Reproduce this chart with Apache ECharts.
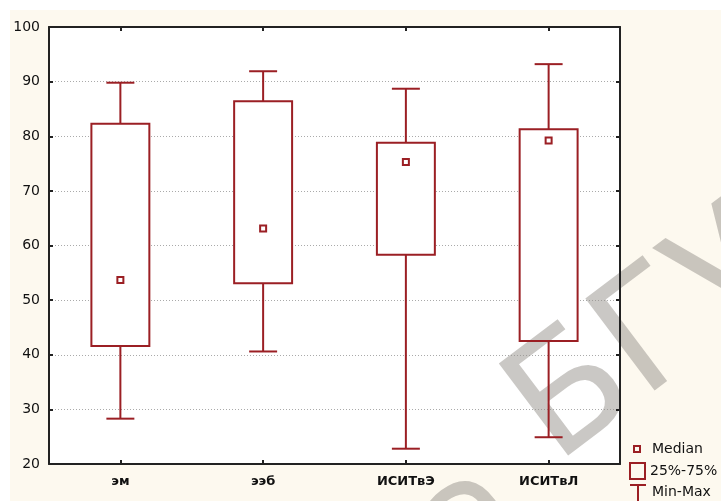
<!DOCTYPE html>
<html><head><meta charset="utf-8">
<script src="https://cdn.jsdelivr.net/npm/echarts@6/dist/echarts.min.js"></script>
<style>html,body{margin:0;padding:0;background:#fff}#c{width:721px;height:501px}</style>
</head><body><div id="c"></div>
<script>
const categories = ['эм', 'ээб', 'ИСИТвЭ', 'ИСИТвЛ'];
const minVals    = [28.3, 40.6, 22.8, 24.9];
const q1Vals     = [41.6, 53.1, 58.3, 42.5];
const medianVals = [53.7, 63.1, 75.3, 79.2];
const q3Vals     = [82.3, 86.4, 78.8, 81.3];
const maxVals    = [89.8, 91.9, 88.7, 93.2];
const yMin = 20, yMax = 100, yStep = 10;
const legendLabels = ['Median', '25%-75%', 'Min-Max'];
const watermarkLeft = 'Библиотека ';
const watermarkRight = 'БГУИР';

const RED = '#9b1f24';
const AX = '#222';
const WM = 'rgba(150,145,140,0.5)';
const data = categories.map((c, i) => [i, minVals[i], q1Vals[i], medianVals[i], q3Vals[i], maxVals[i]]);

function boxGeom(api) {
  const i = api.value(0);
  const band = api.size([1, 0])[0];
  const x = api.coord([i, api.value(3)])[0];
  return {
    x, hw: band * 0.203, cw: band * 0.098,
    yMin: api.coord([i, api.value(1)])[1],
    yQ1: api.coord([i, api.value(2)])[1],
    yMed: api.coord([i, api.value(3)])[1],
    yQ3: api.coord([i, api.value(4)])[1],
    yMax: api.coord([i, api.value(5)])[1]
  };
}
function renderFill(params, api) {
  const g = boxGeom(api);
  return { type: 'rect', shape: { x: g.x - g.hw, y: g.yQ3, width: 2 * g.hw, height: g.yQ1 - g.yQ3 },
    style: { fill: '#fff', stroke: null } };
}
function renderBox(params, api) {
  const g = boxGeom(api);
  const ls = { stroke: RED, lineWidth: 2, fill: null };
  return { type: 'group', children: [
    { type: 'line', shape: { x1: g.x, y1: g.yQ3, x2: g.x, y2: g.yMax }, style: ls },
    { type: 'line', shape: { x1: g.x, y1: g.yQ1, x2: g.x, y2: g.yMin }, style: ls },
    { type: 'line', shape: { x1: g.x - g.cw, y1: g.yMax, x2: g.x + g.cw, y2: g.yMax }, style: ls },
    { type: 'line', shape: { x1: g.x - g.cw, y1: g.yMin, x2: g.x + g.cw, y2: g.yMin }, style: ls },
    { type: 'rect', shape: { x: g.x - g.hw, y: g.yQ3, width: 2 * g.hw, height: g.yQ1 - g.yQ3 }, style: ls },
    { type: 'rect', shape: { x: g.x - 3, y: g.yMed - 3, width: 6, height: 6 }, style: ls }
  ]};
}

const axLine = { show: true, lineStyle: { color: AX, width: 2 } };
const axTick = { show: true, inside: true, length: 4, lineStyle: { color: AX, width: 2 } };
const txt = { fontFamily: 'DejaVu Sans', fontSize: 14, color: '#111' };
const wmFont = '158px "DejaVu Sans"';
const wmRot = 0.645;

const chart = echarts.init(document.getElementById('c'), null, { renderer: 'canvas' });
chart.setOption({
  backgroundColor: '#fff',
  animation: false,
  grid: { left: 49, right: 101, top: 27, bottom: 37, show: true, backgroundColor: '#fff', borderWidth: 0 },
  xAxis: [
    { type: 'category', position: 'bottom', data: categories, boundaryGap: true, z: 3,
      axisLine: axLine, axisTick: Object.assign({ alignWithLabel: true }, axTick),
      axisLabel: { margin: 11, fontFamily: 'DejaVu Sans', fontSize: 13, fontWeight: 'bold', color: '#111' },
      splitLine: { show: false } },
    { type: 'category', position: 'top', data: categories, boundaryGap: true, z: 3,
      axisLine: axLine, axisTick: Object.assign({ alignWithLabel: true }, axTick),
      axisLabel: { show: false }, splitLine: { show: false } }
  ],
  yAxis: [
    { type: 'value', position: 'left', min: yMin, max: yMax, interval: yStep, z: 3,
      axisLine: axLine, axisTick: axTick,
      axisLabel: Object.assign({ margin: 9 }, txt), splitLine: { show: false } },
    { type: 'value', position: 'right', min: yMin, max: yMax, interval: yStep, z: 3,
      axisLine: axLine, axisTick: axTick, axisLabel: { show: false }, splitLine: { show: false } },
    { type: 'value', position: 'left', min: yMin, max: yMax, interval: yStep, z: 0,
      axisLine: { show: false }, axisTick: { show: false }, axisLabel: { show: false },
      splitLine: { show: true, lineStyle: { color: '#aaa', width: 1, type: [1, 2] } } }
  ],
  graphic: [
    { type: 'rect', z: -10, shape: { x: 10, y: 10, width: 720, height: 500 }, style: { fill: '#fdf9ef' } },
    { type: 'text', z: 2, x: 551, y: 467, rotation: wmRot, silent: true,
      style: { text: watermarkLeft, x: 0, y: 0, align: 'right', verticalAlign: 'middle', font: wmFont, fill: WM } },
    { type: 'text', z: 2, x: 531, y: 432, rotation: wmRot, silent: true,
      style: { text: watermarkRight, x: 0, y: 0, align: 'left', verticalAlign: 'middle', font: wmFont, fill: WM } },
    { type: 'rect', z: 10, shape: { x: 634, y: 446, width: 6, height: 6 }, style: { fill: null, stroke: RED, lineWidth: 2 } },
    { type: 'text', z: 10, x: 652, y: 449, style: { text: legendLabels[0], verticalAlign: 'middle', font: '14px "DejaVu Sans"', fill: '#111' } },
    { type: 'rect', z: 10, shape: { x: 630, y: 463, width: 15, height: 16 }, style: { fill: null, stroke: RED, lineWidth: 2 } },
    { type: 'text', z: 10, x: 650, y: 471, style: { text: legendLabels[1], verticalAlign: 'middle', font: '14px "DejaVu Sans"', fill: '#111' } },
    { type: 'line', z: 10, shape: { x1: 630, y1: 485, x2: 646, y2: 485 }, style: { stroke: RED, lineWidth: 2 } },
    { type: 'line', z: 10, shape: { x1: 638, y1: 485, x2: 638, y2: 501 }, style: { stroke: RED, lineWidth: 2 } },
    { type: 'text', z: 10, x: 652, y: 492, style: { text: legendLabels[2], verticalAlign: 'middle', font: '14px "DejaVu Sans"', fill: '#111' } }
  ],
  series: [
    { type: 'custom', name: 'fill', z: 1, xAxisIndex: 0, yAxisIndex: 0, data: data,
      encode: { x: 0, y: [1, 2, 3, 4, 5] }, renderItem: renderFill, silent: true },
    { type: 'custom', name: 'box', z: 4, xAxisIndex: 0, yAxisIndex: 0, data: data,
      encode: { x: 0, y: [1, 2, 3, 4, 5] }, renderItem: renderBox }
  ]
});
</script></body></html>
